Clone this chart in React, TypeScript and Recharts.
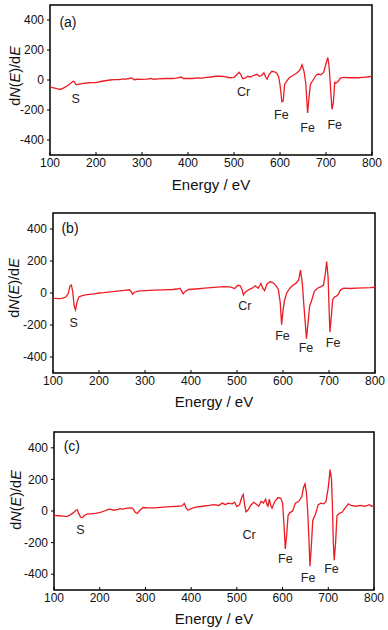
import { LineChart, Line, XAxis, YAxis, ReferenceArea, ReferenceDot } from 'recharts';

const xTicks = [100, 200, 300, 400, 500, 600, 700, 800];
const yTicks = [-400, -200, 0, 200, 400];
const peakNames = ['S', 'Cr', 'Fe', 'Fe', 'Fe'];

// (a)
const energyA = [100, 108, 115, 122, 130, 138, 145, 150, 153, 157, 163, 170, 180, 190, 200, 210, 220, 230, 240, 250, 260, 265, 272, 278, 283, 290, 300, 310, 320, 325, 335, 350, 365, 375, 385, 390, 400, 410, 420, 430, 440, 450, 460, 470, 480, 490, 500, 506, 511, 515, 519, 524, 530, 536, 542, 550, 555, 560, 565, 569, 572, 576, 582, 588, 593, 597, 600, 604, 607, 610, 614, 620, 628, 636, 643, 648, 652, 656, 660, 663, 666, 672, 678, 683, 689, 695, 700, 704, 707, 710, 713, 716, 719, 722, 726, 732, 740, 750, 760, 770, 780, 790, 800];
const signalA = [-48, -52, -58, -63, -52, -38, -22, -8, -12, -32, -27, -24, -20, -18, -17, -10, -5, 0, 2, 3, 8, 6, 10, 14, 2, 5, 4, 6, 10, 5, 8, 10, 10, 12, 20, 10, 10, 10, 14, 12, 18, 20, 25, 25, 22, 15, 18, 35, 52, 35, 8, 12, 25, 20, 30, 38, 25, 30, 48, 18, 5, 35, 58, 55, 45, 22, -30, -145, -140, -30, -10, 15, 30, 45, 65, 102, 60, -20, -220, -120, -30, 0, 30, 40, 35, 50, 110, 150, 80, -60, -195, -150, -15, -20, -10, 15, 18, 15, 15, 15, 18, 20, 25];
const labelEnergyA = [156, 521, 603, 660, 719];
const labelValueA = [-127, -78, -233, -318, -300];

// (b)
const energyB = [100, 110, 120, 128, 133, 137, 140, 143, 146, 149, 152, 156, 162, 170, 180, 190, 200, 210, 220, 230, 240, 250, 260, 266, 270, 273, 277, 285, 300, 320, 340, 360, 370, 376, 380, 383, 387, 395, 410, 430, 450, 470, 485, 495, 502, 507, 511, 514, 518, 525, 533, 540, 546, 552, 556, 560, 565, 572, 578, 585, 590, 594, 597, 600, 603, 608, 615, 622, 628, 634, 638, 642, 646, 651, 654, 658, 662, 668, 675, 683, 688, 692, 695, 698, 700, 702, 705, 708, 712, 716, 720, 725, 732, 745, 760, 775, 790, 800];
const signalB = [-32, -35, -33, -25, -5, 45, 50, 5, -80, -106, -60, -25, -18, -12, -8, -5, 0, 2, 5, 8, 12, 15, 18, 20, 10, -8, 5, 12, 15, 18, 20, 22, 25, 30, 10, -5, 10, 22, 25, 30, 35, 40, 38, 28, 48, 45, 20, -12, 5, 20, 30, 45, 30, 60, 30, 15, 55, 70, 65, 45, 20, -60, -198, -110, -50, 0, 30, 50, 60, 80, 143, 60, -100, -285, -200, -80, -50, 10, 30, 40, 50, 120, 196, 100, -80, -245, -150, -40, -25, -20, -10, 20, 30, 28, 30, 32, 33, 36];
const labelEnergyB = [145, 517, 599, 650, 709];
const labelValueB = [-182, -80, -269, -341, -310];

// (c)
const energyC = [100, 110, 120, 128, 135, 142, 148, 151, 154, 158, 162, 166, 172, 180, 190, 200, 210, 215, 220, 225, 230, 240, 245, 250, 260, 270, 274, 278, 282, 288, 295, 305, 320, 340, 355, 370, 380, 385, 389, 393, 400, 410, 425, 440, 450, 460, 468, 475, 480, 490, 495, 500, 506, 511, 514, 517, 520, 524, 530, 537, 542, 548, 553, 558, 563, 566, 568, 571, 574, 577, 583, 590, 596, 600, 603, 606, 609, 612, 616, 622, 628, 635, 642, 646, 649, 652, 655, 658, 660, 663, 666, 672, 678, 684, 690, 695, 700, 704, 707, 709, 711, 713, 716, 719, 724, 730, 737, 744, 750, 760, 770, 780, 790, 795, 800];
const signalC = [-28, -30, -33, -35, -25, -12, 5, 8, -15, -38, -42, -30, -20, -18, -15, -10, 0, 5, 12, 10, 5, 10, 15, 12, 18, 20, 10, -10, -15, 5, 22, 20, 20, 25, 28, 30, 32, 48, 20, 5, 15, 25, 30, 35, 40, 35, 50, 40, 50, 45, 55, 28, 40, 90, 105, 40, -5, 5, 35, 55, 45, 30, 62, 50, 75, 40, 30, 75, 35, 18, 60, 85, 80, 50, -80, -240, -150, -30, -10, 0, 50, 60, 90, 150, 172, 120, 0, -200, -350, -220, -60, -20, 40, 50, 45, 60, 150, 262, 200, 40, -200, -312, -200, -30, -15, -8, 20, 45, 35, 30, 35, 30, 40, 30, 30];
const labelEnergyC = [158, 527, 606, 656, 707];
const labelValueC = [-118, -149, -301, -421, -364];

const font = '"Liberation Sans", Arial, sans-serif';

const XTick = (props: any) => {
  const { x, y, payload } = props;
  return (
    <g>
      <line x1={x} x2={x} y1={y} y2={y - 3} stroke="#000" strokeWidth={1} />
      <text x={x} y={y + 8} dy="0.35em" textAnchor="middle" fontSize={12} fill="#111" fontFamily={font}>
        {payload.value}
      </text>
    </g>
  );
};

const YTick = (props: any) => {
  const { x, y, payload } = props;
  return (
    <g>
      <line x1={x - 3} x2={x} y1={y} y2={y} stroke="#000" strokeWidth={1} />
      <text x={x - 6} y={y} dy="0.35em" textAnchor="end" fontSize={12} fill="#111" fontFamily={font}>
        {payload.value}
      </text>
    </g>
  );
};

type PanelProps = {
  top: number;
  tag: string;
  tagAt: [number, number];
  energy: number[];
  signal: number[];
  labelEnergy: number[];
  labelValue: number[];
  margin: { top: number; right: number };
  yWidth: number;
  xHeight: number;
  titleY: number;
  ylabel: [number, number];
};

const Panel = (p: PanelProps) => {
  const data = p.energy.map((e, i) => ({ e, v: p.signal[i] }));
  return (
    <div style={{ position: 'absolute', left: 0, top: p.top, width: 388, height: 210 }}>
      <LineChart width={388} height={210} data={data} margin={{ top: p.margin.top, right: p.margin.right, left: 0, bottom: 0 }}>
        <XAxis
          type="number"
          dataKey="e"
          domain={[100, 800]}
          ticks={xTicks}
          tick={XTick}
          tickLine={false}
          tickSize={0}
          tickMargin={0}
          axisLine={false}
          height={p.xHeight}
        />
        <YAxis
          type="number"
          domain={[-500, 500]}
          ticks={yTicks}
          tick={YTick}
          tickLine={false}
          tickSize={0}
          tickMargin={0}
          axisLine={false}
          width={p.yWidth}
        />
        <Line type="linear" dataKey="v" stroke="#ec1c24" strokeWidth={1.3} dot={false} isAnimationActive={false} />
        <ReferenceArea x1={100} x2={800} y1={-500} y2={500} fill="none" stroke="#000" strokeWidth={1.5} />
        <ReferenceDot
          x={p.tagAt[0]}
          y={p.tagAt[1]}
          r={0}
          fill="none"
          stroke="none"
          label={{ value: p.tag, position: 'center', fontSize: 14, fill: '#111', fontFamily: font }}
        />
        {peakNames.map((name, i) => (
          <ReferenceDot
            key={i}
            x={p.labelEnergy[i]}
            y={p.labelValue[i]}
            r={0}
            fill="none"
            stroke="none"
            label={{ value: name, position: 'center', fontSize: 12.5, fill: '#222', fontFamily: font }}
          />
        ))}
      </LineChart>
      <div
        style={{
          position: 'absolute',
          left: p.yWidth,
          width: 388 - p.yWidth - p.margin.right,
          top: p.titleY - 9,
          height: 18,
          lineHeight: '18px',
          textAlign: 'center',
          fontFamily: font,
          fontSize: 15,
          color: '#111',
        }}
      >
        Energy / eV
      </div>
      <div
        style={{
          position: 'absolute',
          left: p.ylabel[0] - 50,
          top: p.ylabel[1] - 9,
          width: 100,
          height: 18,
          lineHeight: '18px',
          textAlign: 'center',
          fontFamily: font,
          fontSize: 14.5,
          color: '#111',
          transform: 'rotate(-90deg)',
        }}
      >
        d<i>N</i>(<i>E</i>)/d<i>E</i>
      </div>
    </div>
  );
};

export default function App() {
  return (
    <div style={{ position: 'absolute', left: 0, top: 0, width: 388, height: 630, background: '#fff' }}>
      <Panel
        top={0}
        tag="(a)"
        tagAt={[139, 387]}
        energy={energyA}
        signal={signalA}
        labelEnergy={labelEnergyA}
        labelValue={labelValueA}
        margin={{ top: 5, right: 16 }}
        yWidth={50}
        xHeight={55}
        titleY={185}
        ylabel={[15, 76]}
      />
      <Panel
        top={210}
        tag="(b)"
        tagAt={[137, 407]}
        energy={energyB}
        signal={signalB}
        labelEnergy={labelEnergyB}
        labelValue={labelValueB}
        margin={{ top: 3, right: 13 }}
        yWidth={53}
        xHeight={47}
        titleY={192}
        ylabel={[14, 78]}
      />
      <Panel
        top={420}
        tag="(c)"
        tagAt={[139, 409]}
        energy={energyC}
        signal={signalC}
        labelEnergy={labelEnergyC}
        labelValue={labelValueC}
        margin={{ top: 12, right: 14 }}
        yWidth={54}
        xHeight={40}
        titleY={199}
        ylabel={[16, 80]}
      />
    </div>
  );
}
